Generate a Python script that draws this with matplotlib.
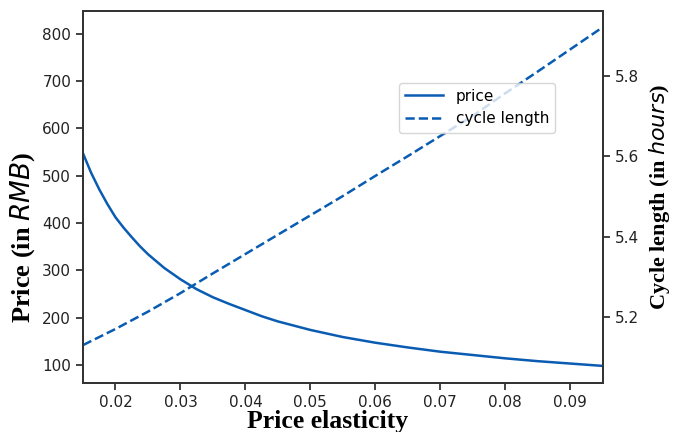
# price and cycle length against price elasticity, two y axes
import numpy as np
import matplotlib
matplotlib.use("Agg")
import matplotlib.pyplot as plt

# values
price_x = [0.015, 0.01625, 0.0175, 0.01875, 0.02, 0.02125, 0.0225, 0.02375, 0.025,
           0.0275, 0.03, 0.0325, 0.035, 0.0375, 0.04, 0.0425, 0.045, 0.0475,
           0.05, 0.055, 0.06, 0.065, 0.07, 0.075, 0.08, 0.085, 0.09, 0.095]
price = [547, 506, 471, 440, 412, 390, 370, 351, 334,
         305, 281, 260, 243, 229, 216, 203, 192, 183,
         174, 159, 147, 137, 128, 121, 114, 108, 103, 98]

cycle_x = [0.015, 0.02, 0.025, 0.03, 0.035, 0.04, 0.045, 0.05, 0.055,
           0.06, 0.065, 0.07, 0.075, 0.08, 0.085, 0.09, 0.095]
cycle = [5.131, 5.171, 5.214, 5.260, 5.309, 5.357, 5.405, 5.453, 5.501,
         5.551, 5.600, 5.650, 5.700, 5.756, 5.810, 5.865, 5.920]

xticks = [0.02, 0.03, 0.04, 0.05, 0.06, 0.07, 0.08, 0.09]
price_ticks = [100, 200, 300, 400, 500, 600, 700, 800]
cycle_ticks = [5.2, 5.4, 5.6, 5.8]

col = '#0a5cb2'

fig = plt.figure(figsize=(6.81, 4.32), dpi=100)
ax = fig.add_axes([0.1219, 0.1141, 0.7631, 0.8611])
ax2 = ax.twinx()

l1, = ax.plot(price_x, price, color=col, lw=1.8, label='price')
l2, = ax2.plot(cycle_x, cycle, color=col, lw=1.8, ls='--', label='cycle length')

ax.set_xlim(0.015, 0.095)
ax.set_ylim(62.5, 848.5)
ax2.set_ylim(5.0376, 5.961)

ax.set_xticks(xticks)
ax.set_yticks(price_ticks)
ax2.set_yticks(cycle_ticks)
ax.set_xticklabels(['%.2f' % t for t in xticks])
ax2.set_yticklabels(['%.1f' % t for t in cycle_ticks])

for a in (ax, ax2):
    a.tick_params(labelsize=11, colors='#222222', width=1.2, length=5)
    for s in a.spines.values():
        s.set_color('#333333')
        s.set_linewidth(1.3)

ax.set_xlabel('Price elasticity', family='Liberation Serif', fontweight='bold', fontsize=18.5)
ax.set_ylabel('Price (in $RMB$)', family='Liberation Serif', fontweight='bold', fontsize=19)
ax2.set_ylabel('Cycle length (in $hours$)', family='Liberation Serif', fontweight='bold', fontsize=16)
ax.xaxis.set_label_coords(0.47, -0.073)
ax.yaxis.set_label_coords(-0.088, 0.39)
ax2.yaxis.set_label_coords(1.085, 0.5)

ax2.legend(handles=[l1, l2], loc='upper right', bbox_to_anchor=(0.923, 0.827),
           fontsize=11, handlelength=2.5)

fig.savefig('out.png', dpi=100)
